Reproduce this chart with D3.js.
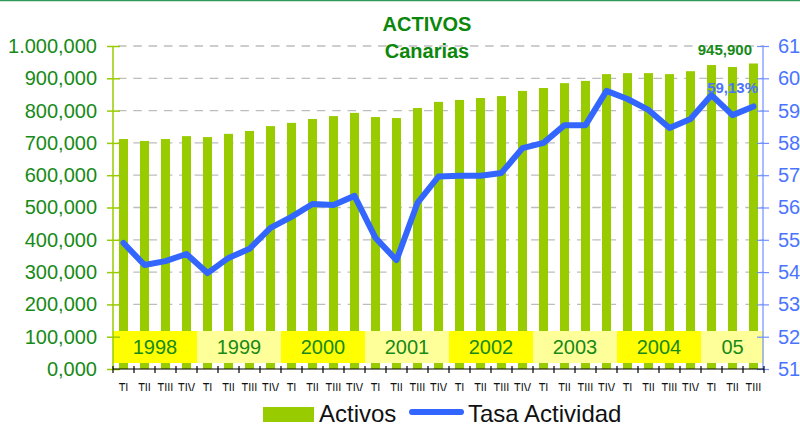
<!DOCTYPE html>
<html>
<head>
<meta charset="utf-8">
<script src="https://cdn.jsdelivr.net/npm/d3@7"></script>
<style>
  body { margin: 0; background: #fff; }
  text { font-family: "Liberation Sans", Arial, sans-serif; }
</style>
</head>
<body>
<script>
const width = 800;
const height = 429;

// quarters 1998 TI .. 2005 TIII
const quarters = [
  "TI", "TII", "TIII", "TIV", "TI", "TII", "TIII", "TIV",
  "TI", "TII", "TIII", "TIV", "TI", "TII", "TIII", "TIV",
  "TI", "TII", "TIII", "TIV", "TI", "TII", "TIII", "TIV",
  "TI", "TII", "TIII", "TIV", "TI", "TII", "TIII"
];
const activos = [
  712000, 706000, 712000, 721000, 718000, 728000, 737000, 752000,
  762000, 774000, 783000, 793000, 780000, 777000, 808000, 827000,
  833000, 839000, 845000, 861000, 870000, 885000, 892000, 913000,
  916000, 916000, 913000, 922000, 941000, 935000, 945900
];
const tasa = [
  54.90, 54.22, 54.34, 54.56, 53.97, 54.44, 54.72, 55.37,
  55.71, 56.11, 56.08, 56.36, 55.06, 54.37, 56.14, 56.96,
  56.98, 56.98, 57.07, 57.84, 58.00, 58.55, 58.55, 59.61,
  59.36, 59.02, 58.46, 58.74, 59.48, 58.86, 59.13
];
const years = ["1998", "1999", "2000", "2001", "2002", "2003", "2004", "05"];
const yearQuarters = [4, 4, 4, 4, 4, 4, 4, 3];
const leftTicks = d3.range(0, 1000001, 100000);
const rightTicks = d3.range(51, 62, 1);

const green = "#99cc00";
const blue = "#3366ff";
const textGreen = "#178a17";

const x = d3.scaleBand()
  .domain(d3.range(quarters.length))
  .range([113, 764])
  .paddingInner(0.57)
  .paddingOuter(0.285);
const xq = d3.scaleLinear().domain([0, quarters.length]).range([113, 764]);
const yL = d3.scaleLinear().domain([0, 1000000]).range([369, 46]);
const yR = d3.scaleLinear().domain([51, 61]).range([369, 46]);

const esFmt = d3.formatLocale({ thousands: ".", grouping: [3], decimal: ",", currency: ["", ""] }).format(",");
const fmtL = d => esFmt(d / 1000) + ",000";

const svg = d3.select("body")
  .append("svg")
  .attr("width", width)
  .attr("height", height);

// top border
svg.append("line")
  .attr("x1", 0).attr("x2", width)
  .attr("y1", 0.5).attr("y2", 0.5)
  .attr("stroke", "#2f9a5a")
  .attr("stroke-width", 1.5);

// gridlines
svg.append("g")
  .selectAll("line")
  .data(leftTicks.filter(d => d > 0))
  .join("line")
  .attr("x1", 113).attr("x2", 764)
  .attr("y1", d => yL(d)).attr("y2", d => yL(d))
  .attr("stroke", "#bdbdbd")
  .attr("stroke-width", 1.3)
  .attr("stroke-dasharray", "8.5,6.8")
  .attr("stroke-dashoffset", -5);

// bars
svg.append("g")
  .selectAll("rect")
  .data(activos)
  .join("rect")
  .attr("x", (d, i) => x(i))
  .attr("y", d => yL(d))
  .attr("width", x.bandwidth())
  .attr("height", d => yL(0) - yL(d))
  .attr("fill", green);

// year boxes
let start = 0;
const yearBoxes = years.map((y, i) => {
  const b = { label: y, start, count: yearQuarters[i], i };
  start += yearQuarters[i];
  return b;
});
const yb = svg.append("g")
  .selectAll("g")
  .data(yearBoxes)
  .join("g");
yb.append("rect")
  .attr("x", d => xq(d.start))
  .attr("width", d => xq(d.start + d.count) - xq(d.start))
  .attr("y", 331)
  .attr("height", 32)
  .attr("fill", d => d.i % 2 === 0 ? "#ffff00" : "#ffff99");
yb.append("text")
  .attr("x", d => (xq(d.start) + xq(d.start + d.count)) / 2)
  .attr("y", 354)
  .attr("text-anchor", "middle")
  .attr("font-size", 20)
  .attr("fill", textGreen)
  .text(d => d.label);

// line
svg.append("path")
  .datum(tasa)
  .attr("fill", "none")
  .attr("stroke", blue)
  .attr("stroke-width", 6)
  .attr("stroke-linejoin", "round")
  .attr("stroke-linecap", "round")
  .attr("d", d3.line()
    .x((d, i) => x(i) + x.bandwidth() / 2)
    .y(d => yR(d)));

// left axis
const gL = svg.append("g")
  .attr("transform", "translate(113,0)")
  .call(d3.axisLeft(yL).tickValues(leftTicks).tickFormat(fmtL).tickSize(6).tickPadding(10));
gL.select(".domain").attr("stroke", green).attr("stroke-width", 1.5).attr("d", "M0,46V369");
gL.selectAll(".tick line").attr("stroke", green).attr("stroke-width", 1.5).attr("x2", 7).attr("x1", -6);
gL.selectAll(".tick text")
  .attr("fill", textGreen)
  .attr("font-size", 20)
  .attr("font-family", "Liberation Sans, Arial, sans-serif")
  .attr("x", -16);

// right axis
const gR = svg.append("g")
  .attr("transform", "translate(763,0)")
  .call(d3.axisRight(yR).tickValues(rightTicks).tickSize(6).tickPadding(10));
gR.select(".domain").attr("stroke", "#7090ff").attr("stroke-width", 1.2).attr("d", "M0,46V369");
gR.selectAll(".tick line").attr("stroke", "#7090ff").attr("stroke-width", 1.2).attr("x1", -6).attr("x2", 6);
gR.selectAll(".tick text")
  .attr("fill", "#4a74ff")
  .attr("font-size", 20)
  .attr("font-family", "Liberation Sans, Arial, sans-serif")
  .attr("x", 15);

// x axis
svg.append("line")
  .attr("x1", 113).attr("x2", 764)
  .attr("y1", 369).attr("y2", 369)
  .attr("stroke", "#000")
  .attr("stroke-width", 1.2);
svg.append("g")
  .selectAll("line")
  .data(d3.range(quarters.length + 1))
  .join("line")
  .attr("x1", d => xq(d)).attr("x2", d => xq(d))
  .attr("y1", 366).attr("y2", 373)
  .attr("stroke", "#000")
  .attr("stroke-width", 1.2);

svg.append("clipPath")
  .attr("id", "qclip")
  .append("rect")
  .attr("x", 100).attr("y", 375)
  .attr("width", 680).attr("height", 16);

// quarter labels, squeezed horizontally like a narrow face, cut at the bottom
svg.append("g")
  .attr("clip-path", "url(#qclip)")
  .selectAll("text")
  .data(quarters)
  .join("text")
  .attr("transform", (d, i) => `translate(${x(i) + x.bandwidth() / 2},393) scale(0.78,1)`)
  .attr("text-anchor", "middle")
  .attr("font-size", 14)
  .attr("fill", "#111")
  .text(d => d);

// value labels
svg.append("text")
  .attr("x", 752)
  .attr("y", 55)
  .attr("text-anchor", "end")
  .attr("font-size", 15)
  .attr("font-weight", "bold")
  .attr("fill", textGreen)
  .text(d3.format(",")(activos[activos.length - 1]));
svg.append("text")
  .attr("x", 758)
  .attr("y", 93)
  .attr("text-anchor", "end")
  .attr("font-size", 15)
  .attr("font-weight", "bold")
  .attr("fill", "#4a74ff")
  .text(d3.format(".2f")(tasa[tasa.length - 1]).replace(".", ",") + "%");

// title
svg.append("text")
  .attr("x", 427).attr("y", 31)
  .attr("text-anchor", "middle")
  .attr("font-size", 20)
  .attr("font-weight", "bold")
  .attr("fill", "#0b870b")
  .text("ACTIVOS");
svg.append("text")
  .attr("x", 427).attr("y", 58)
  .attr("text-anchor", "middle")
  .attr("font-size", 20)
  .attr("font-weight", "bold")
  .attr("fill", "#0b870b")
  .text("Canarias");

// legend
const legend = svg.append("g");
legend.append("rect")
  .attr("x", 263).attr("y", 407)
  .attr("width", 51).attr("height", 15)
  .attr("fill", green);
legend.append("text")
  .attr("x", 319).attr("y", 422)
  .attr("font-size", 24)
  .attr("fill", "#111")
  .text("Activos");
legend.append("line")
  .attr("x1", 412).attr("x2", 461)
  .attr("y1", 412).attr("y2", 412)
  .attr("stroke", blue)
  .attr("stroke-width", 6)
  .attr("stroke-linecap", "round");
legend.append("text")
  .attr("x", 468).attr("y", 422)
  .attr("font-size", 24)
  .attr("fill", "#111")
  .text("Tasa Actividad");
</script>
</body>
</html>
